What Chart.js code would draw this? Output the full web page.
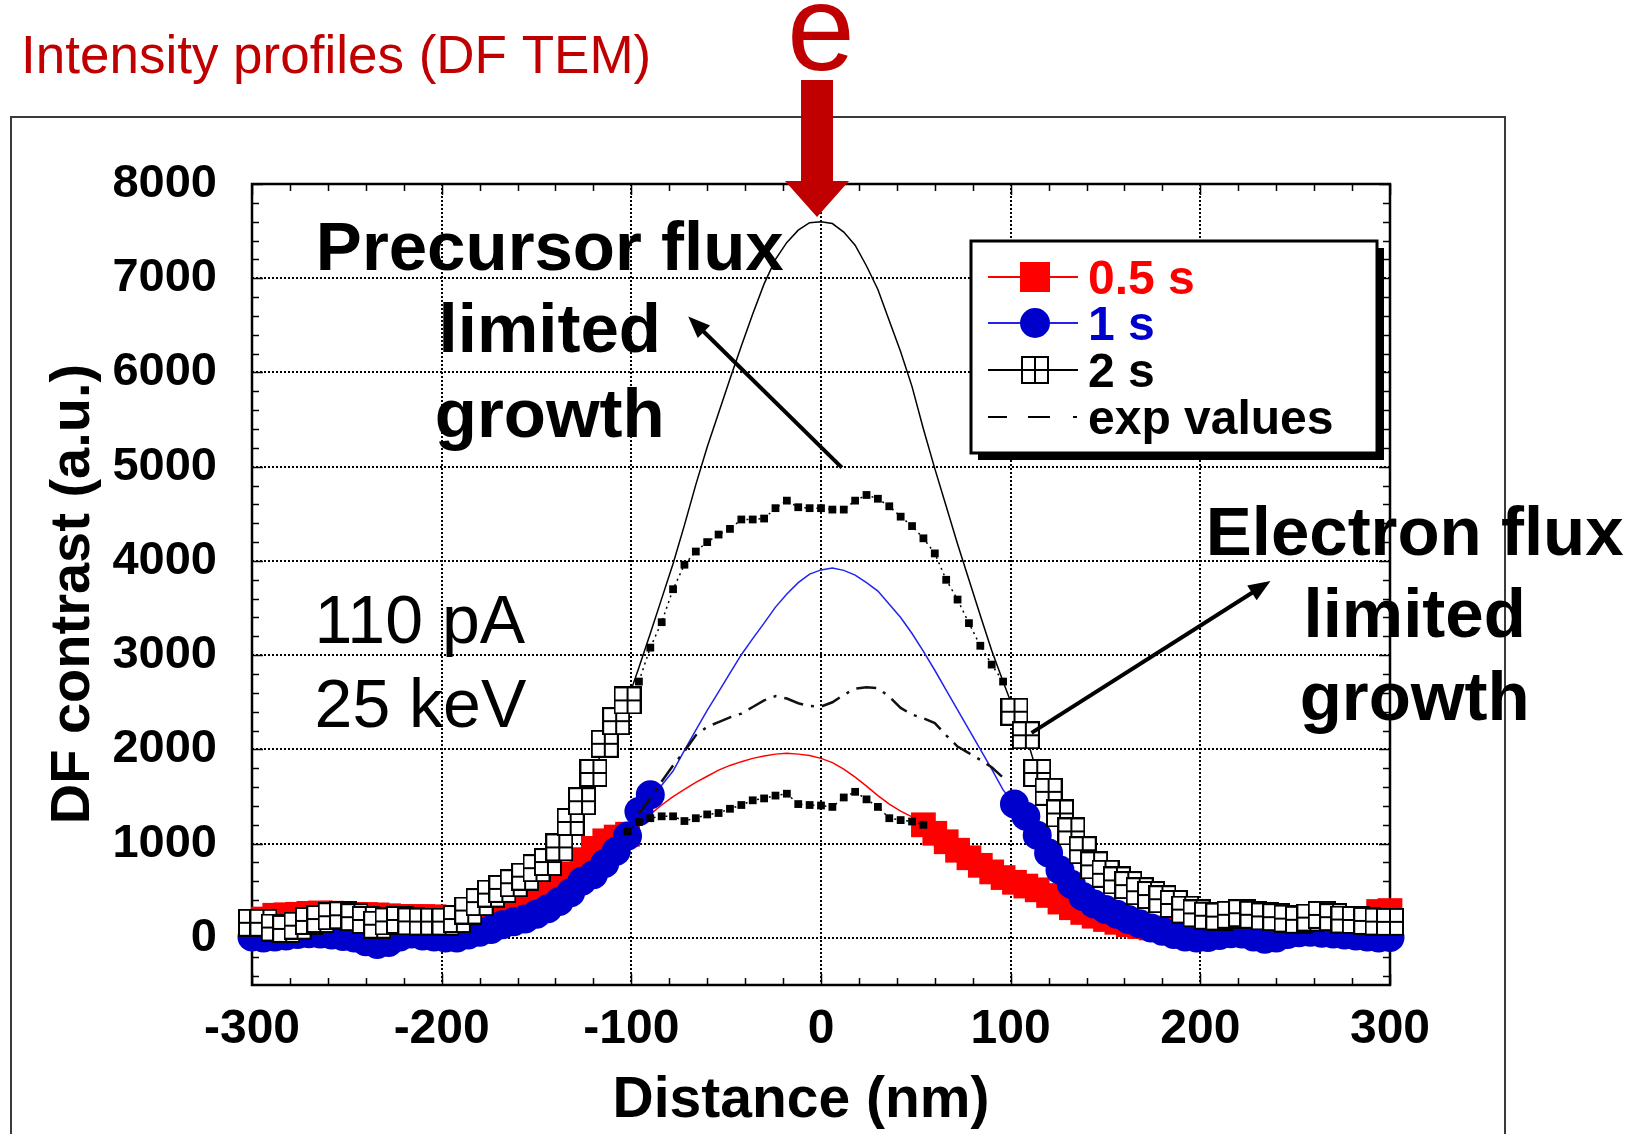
<!DOCTYPE html>
<html>
<head>
<meta charset="utf-8">
<script src="https://cdn.jsdelivr.net/npm/chart.js@4.4.1/dist/chart.umd.min.js"></script>
<style>
  html, body { margin: 0; padding: 0; background: #fff; }
</style>
</head>
<body>
<canvas id="profiles" width="1641" height="1134"></canvas>
<script>
// distance along the profile (nm)
const distance = [
    -300, -294, -288, -282, -276, -270, -264, -258, -252, -246,
    -240, -234, -228, -222, -216, -210, -204, -198, -192, -186,
    -180, -174, -168, -162, -156, -150, -144, -138, -132, -126,
    -120, -114, -108, -102, -96, -90, -84, -78, -72, -66,
    -60, -54, -48, -42, -36, -30, -24, -18, -12, -6,
    0, 6, 12, 18, 24, 30, 36, 42, 48, 54,
    60, 66, 72, 78, 84, 90, 96, 102, 108, 114,
    120, 126, 132, 138, 144, 150, 156, 162, 168, 174,
    180, 186, 192, 198, 204, 210, 216, 222, 228, 234,
    240, 246, 252, 258, 264, 270, 276, 282, 288, 294,
    300
];

// simulated DF contrast, 0.5 s exposure
const contrast05 = [
    170, 200, 240, 245, 250, 260, 265, 262, 260, 250,
    248, 244, 235, 228, 226, 226, 224, 215, 205, 200,
    200, 210, 240, 280, 340, 400, 480, 560, 680, 830,
    950, 1030, 1070, 1100, 1220, 1310, 1410, 1500, 1575, 1650,
    1715, 1780, 1830, 1870, 1905, 1930, 1950, 1960, 1950, 1935,
    1905, 1860, 1790, 1705, 1610, 1510, 1420, 1345, 1285, 1200,
    1110, 1020, 930, 850, 770, 700, 640, 590, 550, 510,
    450, 380, 320, 270, 230, 195, 165, 140, 120, 105,
    95, 90, 90, 90, 95, 100, 95, 85, 80, 85,
    90, 95, 100, 100, 95, 100, 110, 120, 200, 280,
    290
];

// 1 s exposure
const contrast1 = [
    10, 0, 10, 20, 35, 45, 40, 30, 15, 0,
    -40, -70, -50, 10, 40, 20, 10, 0, 0, 30,
    60, 90, 140, 170, 200, 250, 310, 385, 480, 600,
    670, 790, 920, 1080, 1340, 1520, 1620, 1770, 1990, 2205,
    2415, 2610, 2810, 3005, 3175, 3340, 3510, 3650, 3770, 3860,
    3905, 3925, 3900, 3850, 3770, 3680, 3540, 3400, 3230, 3040,
    2840, 2630, 2420, 2210, 2000, 1790, 1570, 1420, 1290, 1090,
    900, 720, 570, 440, 360, 300, 250, 195, 150, 105,
    70, 35, 10, 0, 5, 25, 45, 40, 10, -15,
    0, 35, 55, 60, 50, 40, 30, 20, 10, 0,
    5
];

// 2 s exposure
const contrast2 = [
    160, 160, 110, 95, 130, 180, 200, 230, 240, 220,
    190, 140, 175, 190, 175, 173, 173, 173, 200, 290,
    380, 470, 520, 580, 650, 740, 805, 960, 1230, 1450,
    1750, 2060, 2300, 2520, 2870, 3230, 3600, 3970, 4380, 4810,
    5210, 5570, 5930, 6280, 6620, 6940, 7200, 7380, 7510, 7590,
    7600, 7580, 7490, 7350, 7130, 6880, 6550, 6220, 5850, 5400,
    4980, 4580, 4180, 3800, 3420, 3050, 2720, 2400, 2150, 1750,
    1550, 1320, 1130, 930, 770, 680, 610, 560, 495, 455,
    410, 360, 300, 260, 235, 226, 245, 262, 245, 228,
    220, 205, 192, 215, 244, 220, 195, 190, 180, 173,
    170
];

// experimental profiles (centre of the deposit only)
const expDistance = [
    -102, -96, -90, -84, -78, -72, -66, -60, -54, -48,
    -42, -36, -30, -24, -18, -12, -6, 0, 6, 12,
    18, 24, 30, 36, 42, 48, 54, 60, 66, 72,
    78, 84, 90, 96, 102
];
const exp05 = [
    1130, 1230, 1270, 1290, 1290, 1240, 1270, 1310, 1325, 1370,
    1410, 1460, 1480, 1510, 1530, 1420, 1410, 1405, 1390, 1490,
    1550, 1470, 1390, 1270, 1250, 1235, 1200, null, null, null,
    null, null, null, null, null
];
const exp1 = [
    null, 1320, 1480, 1660, 1830, 1980, 2150, 2240, 2290, 2340,
    2380, 2450, 2520, 2565, 2540, 2490, 2460, 2455, 2500, 2580,
    2645, 2660, 2650, 2560, 2440, 2370, 2330, 2280, 2150, 2030,
    1960, 1890, 1810, 1700, null
];
const exp2 = [
    null, 2720, 3080, 3350, 3700, 3960, 4100, 4200, 4280, 4340,
    4440, 4440, 4450, 4560, 4640, 4570, 4560, 4560, 4545, 4545,
    4640, 4700, 4660, 4580, 4470, 4370, 4240, 4080, 3800, 3590,
    3340, 3100, 2900, 2720, null
];

const xTicks = [-300, -200, -100, 0, 100, 200, 300];
const yTicks = [0, 1000, 2000, 3000, 4000, 5000, 6000, 7000, 8000];

const FONT = "'Liberation Sans', Arial, Helvetica, sans-serif";
const DARK_RED = '#c00000';

const pts = (xs, ys) => xs.map((x, i) => ({x: x, y: ys[i]}));

// markers only on the tails, plain line in the middle
function tailRadius(lo, hi, r) {
    return ctx => {
        const p = ctx.raw;
        if (!p) return r;
        return (p.x > lo && p.x < hi) ? 0 : r;
    };
}

function crossBox(size) {
    const c = document.createElement('canvas');
    c.width = size;
    c.height = size;
    const g = c.getContext('2d');
    g.fillStyle = '#fff';
    g.fillRect(0, 0, size, size);
    g.strokeStyle = '#000';
    g.lineWidth = 2;
    g.strokeRect(1, 1, size - 2, size - 2);
    g.beginPath();
    g.moveTo(size / 2, 1);
    g.lineTo(size / 2, size - 1);
    g.moveTo(1, size / 2);
    g.lineTo(size - 1, size / 2);
    g.stroke();
    return c;
}
const boxMarker = crossBox(28);

function arrow(ctx, x0, y0, x1, y1, w, head) {
    const a = Math.atan2(y1 - y0, x1 - x0);
    const c = Math.cos(a), s = Math.sin(a);
    ctx.lineWidth = w;
    ctx.beginPath();
    ctx.moveTo(x0, y0);
    ctx.lineTo(x1 - c * head * 0.8, y1 - s * head * 0.8);
    ctx.stroke();
    ctx.beginPath();
    ctx.moveTo(x1, y1);
    ctx.lineTo(x1 - head * c + head * 0.4 * s, y1 - head * s - head * 0.4 * c);
    ctx.lineTo(x1 - head * c - head * 0.4 * s, y1 - head * s + head * 0.4 * c);
    ctx.closePath();
    ctx.fill();
}

// outer frame of the slide panel + inward ticks of the plot box
const frame = {
    id: 'frame',
    beforeDraw(chart) {
        const ctx = chart.ctx;
        ctx.save();
        ctx.strokeStyle = '#3a3a3a';
        ctx.lineWidth = 2;
        ctx.strokeRect(11, 117, 1494, 1100);
        ctx.restore();
    },
    beforeDatasetsDraw(chart) {
        const {ctx, chartArea: a, scales: {x, y}} = chart;
        ctx.save();
        ctx.strokeStyle = '#000';
        ctx.lineWidth = 1.5;
        ctx.beginPath();
        for (let v = -300; v <= 300; v += 20) {
            const px = Math.round(x.getPixelForValue(v)) + 0.5;
            const len = v % 100 === 0 ? 11 : 7;
            ctx.moveTo(px, a.bottom); ctx.lineTo(px, a.bottom - len);
            ctx.moveTo(px, a.top); ctx.lineTo(px, a.top + len);
        }
        for (let v = -400; v <= 8000; v += 200) {
            const py = Math.round(y.getPixelForValue(v)) + 0.5;
            const len = v % 1000 === 0 ? 11 : 7;
            ctx.moveTo(a.left, py); ctx.lineTo(a.left + len, py);
            ctx.moveTo(a.right, py); ctx.lineTo(a.right - len, py);
        }
        ctx.stroke();
        ctx.lineWidth = 2.5;
        ctx.strokeRect(a.left, a.top, a.right - a.left, a.bottom - a.top);
        ctx.restore();
    }
};

// titles, annotations, legend
const notes = {
    precursor: {x: -143, lines: [[7091, 'Precursor flux'], [6221, 'limited'], [5318, 'growth']]},
    electron: {x: 313, lines: [[4066, 'Electron flux'], [3195, 'limited'], [2314, 'growth']]},
    beam: {x: -267, lines: [[3132, '110 pA'], [2240, '25 keV']]},
    arrowPrecursor: [11, 4990, -70, 6595],
    arrowElectron: [111, 2176, 237, 3787]
};

const decor = {
    id: 'decor',
    afterDraw(chart) {
        const {ctx, scales: {x, y}} = chart;
        const X = v => x.getPixelForValue(v);
        const Y = v => y.getPixelForValue(v);
        ctx.save();

        // heading
        ctx.fillStyle = DARK_RED;
        ctx.textAlign = 'left';
        ctx.textBaseline = 'alphabetic';
        ctx.font = '53px ' + FONT;
        ctx.fillText('Intensity profiles (DF TEM)', 21, 73);
        ctx.textAlign = 'center';
        ctx.font = '122px ' + FONT;
        ctx.fillText('e', X(0), 70);

        // electron beam arrow
        const cx = X(0) - 4;
        ctx.beginPath();
        ctx.moveTo(cx - 16, 80);
        ctx.lineTo(cx + 16, 80);
        ctx.lineTo(cx + 16, 181);
        ctx.lineTo(cx + 32, 181);
        ctx.lineTo(cx, 217);
        ctx.lineTo(cx - 32, 181);
        ctx.lineTo(cx - 16, 181);
        ctx.closePath();
        ctx.fill();

        // axis titles
        ctx.fillStyle = '#000';
        ctx.font = 'bold 57px ' + FONT;
        ctx.textAlign = 'center';
        ctx.fillText('Distance (nm)', 801, 1117);
        ctx.save();
        ctx.translate(89, 594);
        ctx.rotate(-Math.PI / 2);
        ctx.font = 'bold 56px ' + FONT;
        ctx.fillText('DF contrast (a.u.)', 0, 0);
        ctx.restore();

        // annotations
        ctx.font = 'bold 69px ' + FONT;
        ctx.textAlign = 'center';
        for (const key of ['precursor', 'electron']) {
            const n = notes[key];
            n.lines.forEach(([v, t]) => ctx.fillText(t, X(n.x), Y(v)));
        }
        ctx.font = '68px ' + FONT;
        ctx.textAlign = 'left';
        notes.beam.lines.forEach(([v, t]) => ctx.fillText(t, X(notes.beam.x), Y(v)));

        ctx.strokeStyle = '#000';
        ctx.fillStyle = '#000';
        let p = notes.arrowPrecursor;
        arrow(ctx, X(p[0]), Y(p[1]), X(p[2]), Y(p[3]), 4, 22);
        p = notes.arrowElectron;
        arrow(ctx, X(p[0]), Y(p[1]), X(p[2]), Y(p[3]), 4, 22);

        // legend box
        const L = 971, T = 241, W = 406, H = 212;
        ctx.fillStyle = '#000';
        ctx.fillRect(L + 7, T + 7, W, H);
        ctx.fillStyle = '#fff';
        ctx.fillRect(L, T, W, H);
        ctx.lineWidth = 3;
        ctx.strokeRect(L, T, W, H);

        const rows = [
            {label: '0.5 s', color: '#ff0000', line: '#ff0000', mark: 'rect'},
            {label: '1 s', color: '#0000cc', line: '#2222ee', mark: 'circle'},
            {label: '2 s', color: '#000', line: '#000', mark: 'box'},
            {label: 'exp values', color: '#000', line: '#000', mark: 'dash'}
        ];
        const rowY = [277, 323, 370, 417];
        rows.forEach((r, i) => {
            const ry = rowY[i];
            ctx.strokeStyle = r.line;
            ctx.lineWidth = 2;
            ctx.setLineDash(r.mark === 'dash' ? [19, 21, 22, 23, 4, 200] : []);
            ctx.beginPath();
            ctx.moveTo(988, ry);
            ctx.lineTo(1078, ry);
            ctx.stroke();
            ctx.setLineDash([]);
            ctx.fillStyle = r.color;
            if (r.mark === 'rect') ctx.fillRect(1020, ry - 15, 30, 30);
            if (r.mark === 'circle') {
                ctx.beginPath();
                ctx.arc(1035, ry, 15, 0, Math.PI * 2);
                ctx.fill();
            }
            if (r.mark === 'box') ctx.drawImage(boxMarker, 1021, ry - 14);
            ctx.font = 'bold 48px ' + FONT;
            ctx.textAlign = 'left';
            ctx.fillText(r.label, 1088, ry + 17);
        });
        ctx.restore();
    }
};

new Chart(document.getElementById('profiles'), {
    type: 'line',
    data: {
        datasets: [
            {
                label: 'exp values',
                data: pts(expDistance, exp2),
                borderColor: '#000',
                borderWidth: 1.5,
                borderDash: [2, 4],
                pointStyle: 'rect',
                pointRadius: 5.5,
                pointBackgroundColor: '#000',
                pointBorderWidth: 0,
                clip: false
            },
            {
                label: 'exp values 1 s',
                data: pts(expDistance, exp1),
                borderColor: '#111',
                borderWidth: 2.5,
                borderDash: [20, 8, 3, 8],
                pointRadius: 0,
                clip: false
            },
            {
                label: 'exp values 0.5 s',
                data: pts(expDistance, exp05),
                borderColor: '#000',
                borderWidth: 1.5,
                borderDash: [2, 4],
                pointStyle: 'rect',
                pointRadius: 5.5,
                pointBackgroundColor: '#000',
                pointBorderWidth: 0,
                clip: false
            },
            {
                label: '2 s',
                data: pts(distance, contrast2),
                borderColor: '#000',
                borderWidth: 1.5,
                pointStyle: boxMarker,
                pointRadius: tailRadius(-100, 100, 14),
                clip: false
            },
            {
                label: '1 s',
                data: pts(distance, contrast1),
                borderColor: '#2222ee',
                borderWidth: 1.5,
                pointStyle: 'circle',
                pointRadius: tailRadius(-88, 100, 14.5),
                pointBackgroundColor: '#0000cc',
                pointBorderWidth: 0,
                clip: false
            },
            {
                label: '0.5 s',
                data: pts(distance, contrast05),
                borderColor: '#ff0000',
                borderWidth: 1.5,
                pointStyle: 'rect',
                pointRadius: tailRadius(-100, 50, 17.5),
                pointBackgroundColor: '#ff0000',
                pointBorderWidth: 0,
                clip: false
            }
        ]
    },
    options: {
        responsive: false,
        animation: false,
        events: [],
        layout: {
            padding: {top: 184, right: 251, left: 0, bottom: 0}
        },
        plugins: {
            legend: {display: false},
            tooltip: {enabled: false}
        },
        scales: {
            x: {
                type: 'linear',
                min: -300,
                max: 300,
                afterBuildTicks: s => { s.ticks = xTicks.map(v => ({value: v})); },
                afterFit: s => { s.height = 149; },
                grid: {color: '#000', lineWidth: 2, drawTicks: false},
                border: {display: false, dash: [2, 2]},
                ticks: {
                    padding: 16,
                    color: '#000',
                    font: {family: FONT, size: 48, weight: 'bold'},
                    callback: v => String(v)
                }
            },
            y: {
                type: 'linear',
                min: -500,
                max: 8000,
                afterBuildTicks: s => { s.ticks = yTicks.map(v => ({value: v})); },
                afterFit: s => { s.width = 252; },
                grid: {color: '#000', lineWidth: 2, drawTicks: false},
                border: {display: false, dash: [2, 2]},
                ticks: {
                    padding: 35,
                    color: '#000',
                    font: {family: FONT, size: 47, weight: 'bold'},
                    callback: v => String(v)
                }
            }
        }
    },
    plugins: [frame, decor]
});
</script>
</body>
</html>
